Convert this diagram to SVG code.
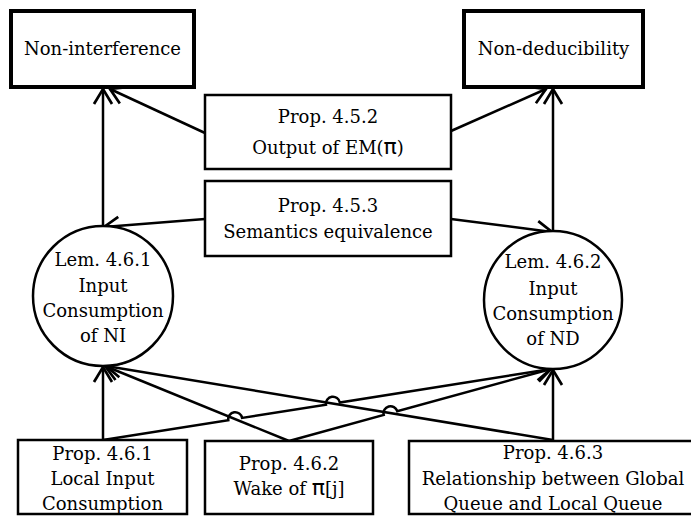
<svg xmlns="http://www.w3.org/2000/svg" width="691" height="516" viewBox="0 0 691 516">
<style>
text{font-family:"DejaVu Serif","Liberation Serif",serif;font-size:18px;fill:#000;text-anchor:middle}
.pi{font-family:"DejaVu Sans","Liberation Sans",sans-serif;font-size:22px}
.top{fill:#fff;stroke:#000;stroke-width:4}
.box{fill:#fff;stroke:#000;stroke-width:2.5}
.c{fill:#fff;stroke:#000;stroke-width:2.5}
.e{fill:none;stroke:#000;stroke-width:2.5;marker-end:url(#arr)}
</style>
<defs>
<marker id="arr" markerUnits="userSpaceOnUse" markerWidth="30" markerHeight="30" viewBox="-20 -15 25 30" refX="0" refY="0" orient="auto" overflow="visible">
<path d="M-15,-9 L0,0 L-15,9" fill="none" stroke="#000" stroke-width="2.7"/>
</marker>
</defs>
<rect width="691" height="516" fill="#fff"/>
<g id="connectors">
<path class="e" d="M103,226 L103,89"/>
<path class="e" d="M205,133 L110,89"/>
<path class="e" d="M451,131 L546,89"/>
<path class="e" d="M553,231 L553,89"/>
<path class="e" d="M205,219 L104,227"/>
<path class="e" d="M451,219 L552,232"/>
<path class="e" d="M103,440 L103,367"/>
<path class="e" d="M289,441 L105,366"/>
<path class="e" d="M553,440 L106,366"/>
<path class="e" d="M553,441 L553,370"/>
<path class="e" d="M103,440 L228.29,420.15 A7,7 0 0,1 242.11,417.95 L325.99,404.66 A7,7 0 0,1 339.81,402.46 L551,369"/>
<path class="e" d="M289,441 L383.75,414.95 A7,7 0 0,1 397.25,411.25 L551,369"/>
</g>
<g id="non-interference">
<rect class="top" x="11" y="11" width="183" height="76"/>
<text x="102.5" y="55">Non-interference</text>
</g>
<g id="non-deducibility">
<rect class="top" x="464" y="11" width="179" height="76"/>
<text x="553.5" y="55">Non-deducibility</text>
</g>
<g id="prop452">
<rect class="box" x="205" y="95" width="246" height="74"/>
<text x="328" y="123">Prop. 4.5.2</text>
<text x="328" y="154">Output of EM(<tspan class="pi">π</tspan>)</text>
</g>
<g id="prop453">
<rect class="box" x="205" y="181" width="246" height="75"/>
<text x="328" y="212">Prop. 4.5.3</text>
<text x="328" y="238">Semantics equivalence</text>
</g>
<g id="lem461">
<circle class="c" cx="103" cy="296" r="70"/>
<text x="103" y="266">Lem. 4.6.1</text>
<text x="103" y="292">Input</text>
<text x="103" y="317">Consumption</text>
<text x="103" y="342">of NI</text>
</g>
<g id="lem462">
<circle class="c" cx="553" cy="300" r="69"/>
<text x="553" y="268">Lem. 4.6.2</text>
<text x="553" y="295">Input</text>
<text x="553" y="320">Consumption</text>
<text x="553" y="345">of ND</text>
</g>
<g id="prop461">
<rect class="box" x="18" y="440" width="169" height="74"/>
<text x="102.5" y="460">Prop. 4.6.1</text>
<text x="102.5" y="485">Local Input</text>
<text x="102.5" y="510">Consumption</text>
</g>
<g id="prop462">
<rect class="box" x="205" y="441" width="168" height="73"/>
<text x="289" y="470">Prop. 4.6.2</text>
<text x="289" y="495">Wake of <tspan class="pi">π</tspan>[j]</text>
</g>
<g id="prop463">
<rect class="box" x="409" y="441" width="290" height="73"/>
<text x="553" y="459">Prop. 4.6.3</text>
<text x="553" y="485">Relationship between Global</text>
<text x="553" y="510">Queue and Local Queue</text>
</g>
</svg>
